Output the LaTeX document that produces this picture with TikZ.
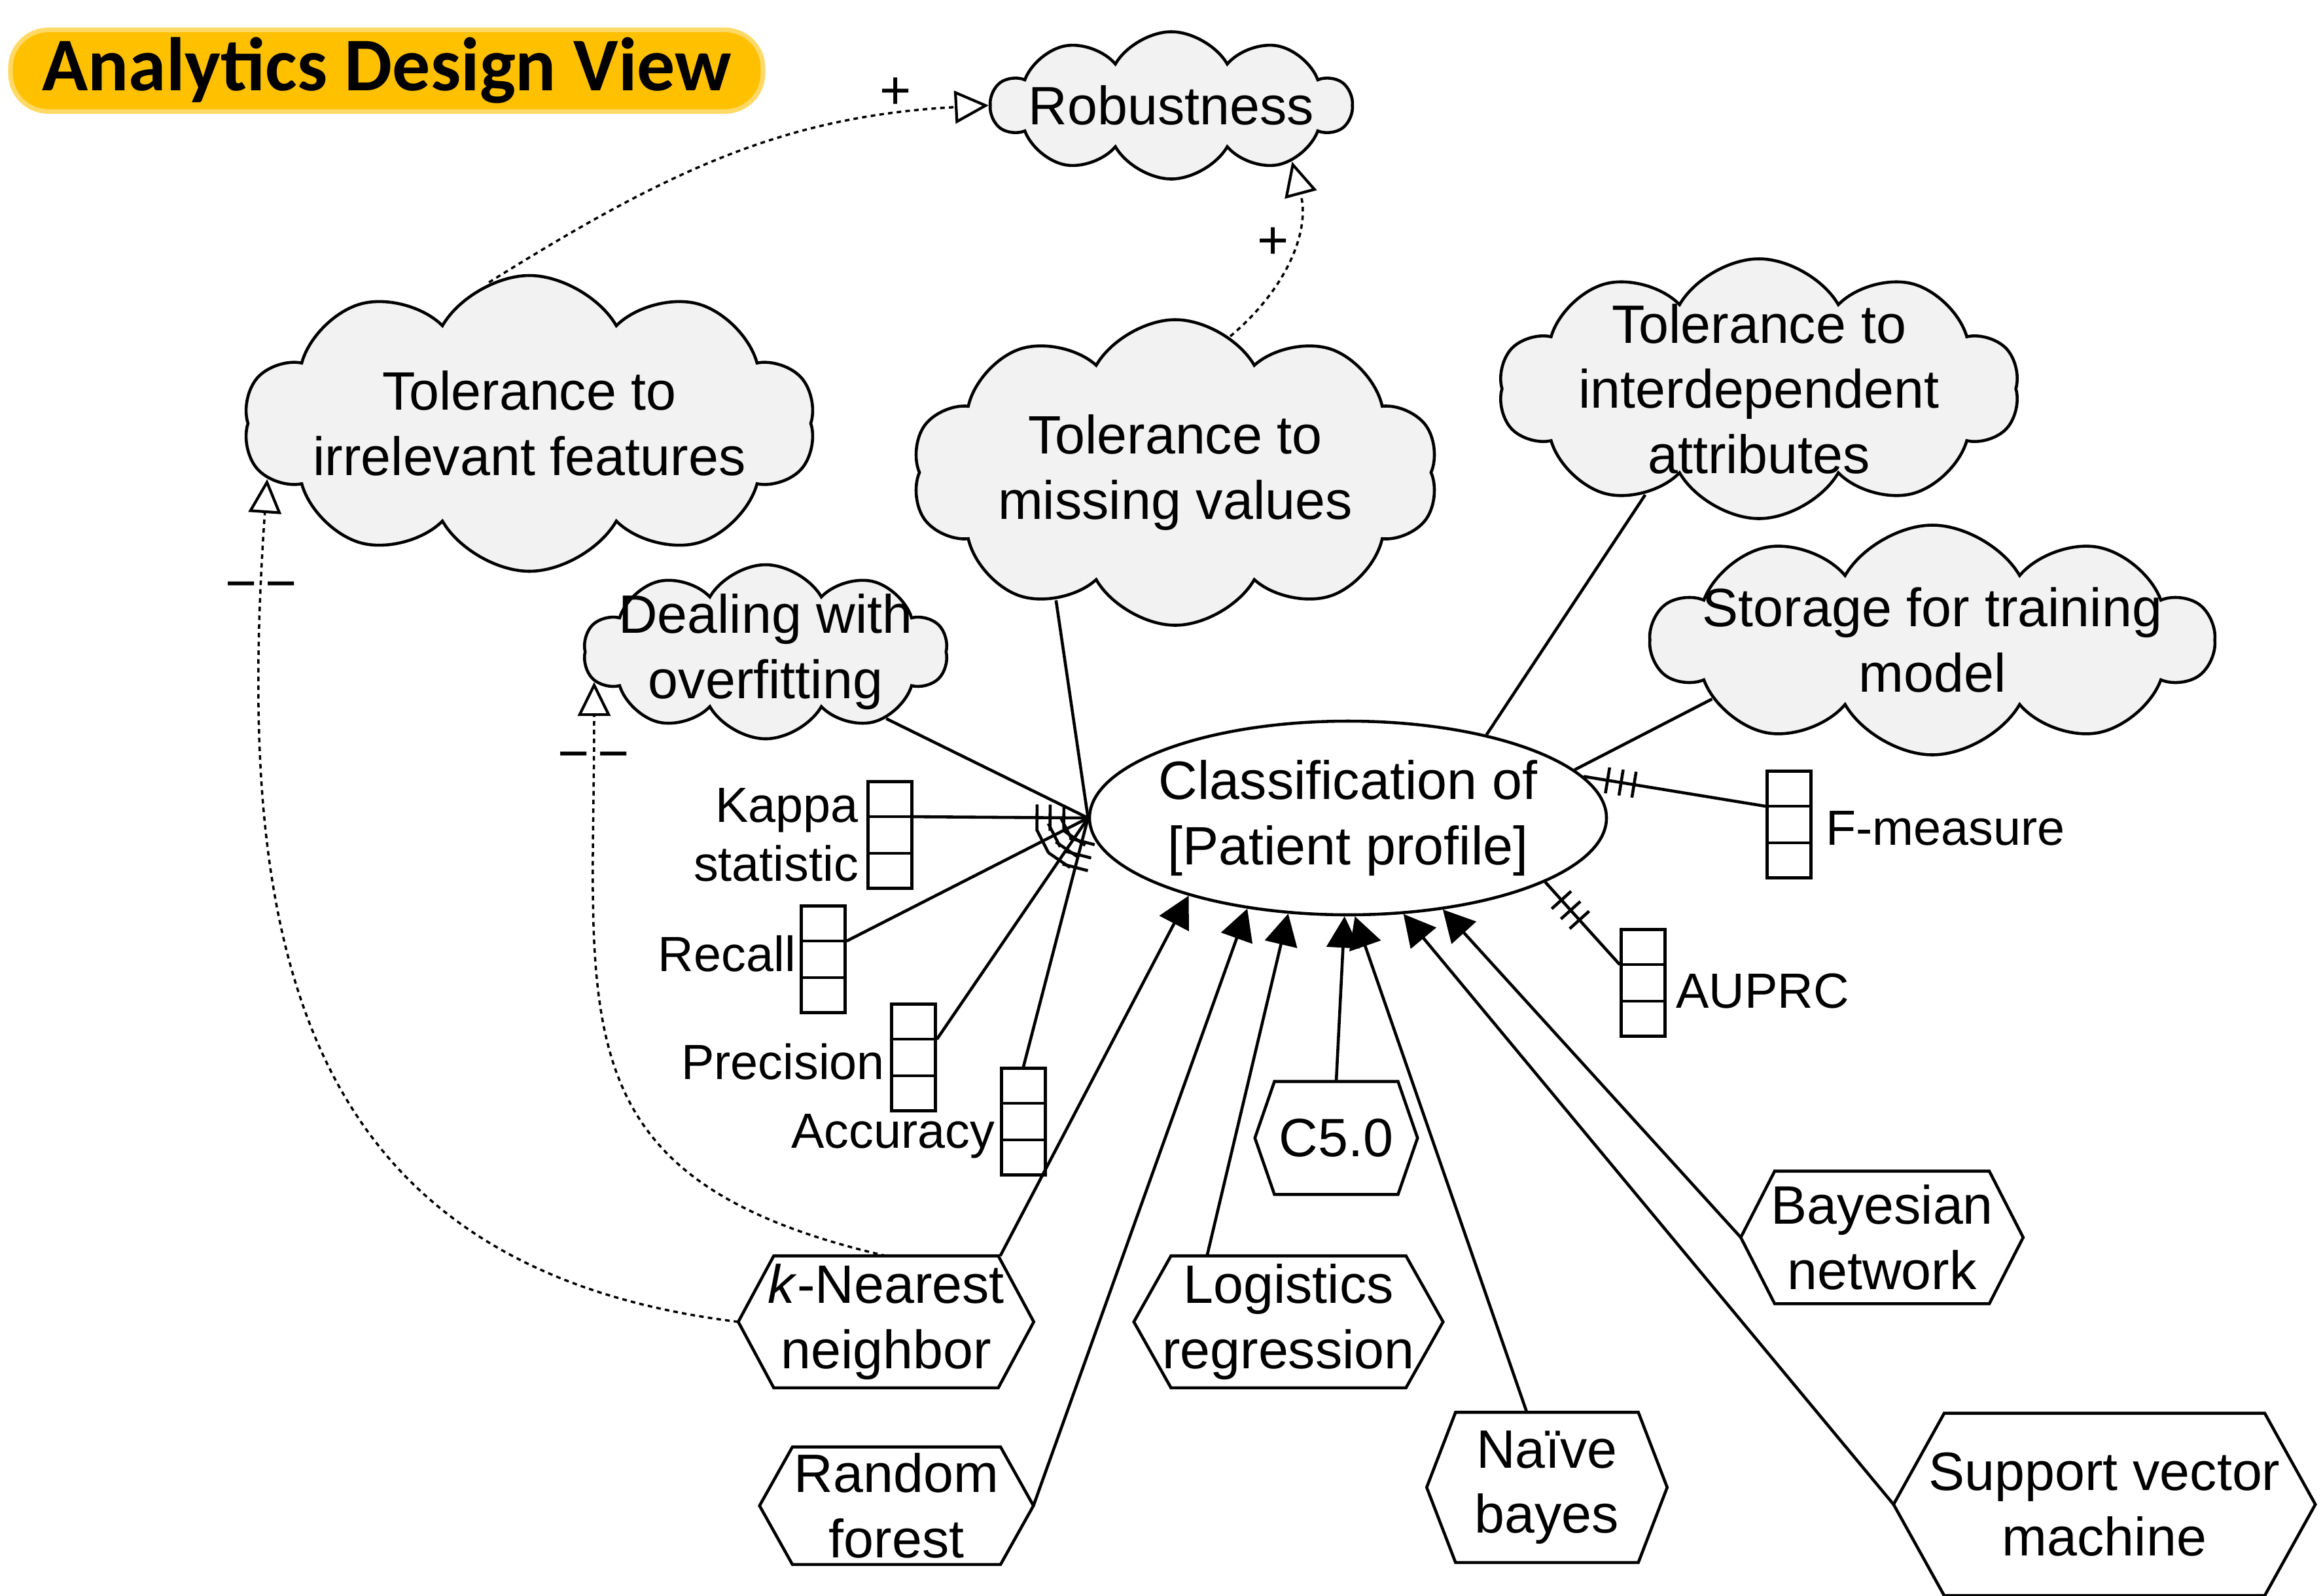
\documentclass[tikz,border=0pt]{standalone}
\usepackage{fontspec}
\setmainfont{Liberation Sans}
\newfontfamily\titlefont{Carlito}
\usepackage{tikz}
\usetikzlibrary{positioning, shapes.geometric, shapes.symbols, arrows.meta, calc, decorations.markings}
\definecolor{viewfill}{HTML}{FFC000}
\definecolor{viewedge}{HTML}{FFD966}
\definecolor{softfill}{HTML}{F2F2F2}

\tikzset{
    softgoal/.style={cloud, cloud puffs=10, cloud puff arc=120, cloud ignores aspect, draw, fill=softfill, inner sep=0pt, label={[align=center]center:#1}},
    goal/.style={ellipse, draw, fill=white, inner sep=0pt, label={[align=center]center:#1}},
    task/.style={align=center, inner sep=0pt},
    indicator/.style={draw, minimum width=0.67cm, minimum height=1.63cm, inner sep=0pt},
    metrictext/.style={inner sep=0.04cm, font=\fontsize{21.5}{25.5}\selectfont},
    means/.style={-{Triangle[length=0.48cm, width=0.5cm]}},
    contrib/.style={line width=1pt, dash pattern=on 2pt off 1.8pt, -{Triangle[open, length=0.52cm, width=0.5cm, line width=1.2pt]}},
    tick3/.style={postaction={decorate, decoration={markings,
        mark=at position 0.37cm with {\draw (0,-0.2) -- (0,0.2);},
        mark=at position 0.58cm with {\draw (0,-0.2) -- (0,0.2);},
        mark=at position 0.78cm with {\draw (0,-0.2) -- (0,0.2);}}}}
}

\begin{document}
\begin{tikzpicture}[line width=1.3pt, font=\fontsize{23.5}{28.3}\selectfont]
    \useasboundingbox (0,0) rectangle (35.5,-24.38);

    \node [draw=viewedge, line width=2pt, fill=viewfill, rounded corners=0.58cm, minimum width=11.5cm, minimum height=1.12cm, font=\titlefont\bfseries\fontsize{33}{36}\selectfont] (view) at (5.91,-1.08) {Analytics Design View};

    % softgoals
    \node [softgoal={Robustness}, minimum width=5.5cm, minimum height=2.25cm] (robust) at (17.90,-1.61) {};
    \node [softgoal={Tolerance to\\irrelevant features}, minimum width=8.74cm, minimum height=4.52cm] (irrel) at (8.09,-6.47) {};
    \node [softgoal={Tolerance to\\missing values}, minimum width=8.05cm, minimum height=4.67cm] (missing) at (17.96,-7.22) {};
    \node [softgoal={Dealing with\\overfitting}, minimum width=5.56cm, minimum height=2.66cm] (overfit) at (11.70,-9.96) {};
    \node [softgoal={Tolerance to\\interdependent\\attributes}, minimum width=7.95cm, minimum height=3.97cm] (interdep) at (26.88,-5.94) {};
    \node [softgoal={Storage for training\\model}, minimum width=8.58cm, minimum height=3.51cm] (storage) at (29.53,-9.78) {};

    \node [goal={Classification of\\{[}Patient profile{]}}, minimum width=7.9cm, minimum height=2.96cm] (cls) at (20.60,-12.50) {};

    % indicators
    \node [indicator] (kappa) at (13.60,-12.76) {};
    \node [indicator] (recall) at (12.58,-14.66) {};
    \node [indicator] (precision) at (13.96,-16.16) {};
    \node [indicator] (accuracy) at (15.64,-17.14) {};
    \node [indicator] (fmeas) at (27.34,-12.60) {};
    \node [indicator] (auprc) at (25.11,-15.02) {};
    \foreach \n in {kappa,recall,precision,accuracy,fmeas,auprc} {
        \draw ($(\n.north west)!1/3!(\n.south west)$) -- ($(\n.north east)!1/3!(\n.south east)$);
        \draw ($(\n.north west)!2/3!(\n.south west)$) -- ($(\n.north east)!2/3!(\n.south east)$);
    }
    \foreach \n in {kappa,recall,precision}
        \coordinate (\n-in) at ($(\n.north east)!1/3!(\n.south east)$);
    \foreach \n in {fmeas,auprc}
        \coordinate (\n-in) at ($(\n.north west)!1/3!(\n.south west)$);

    \node [metrictext, align=right, left=0.06cm of kappa] (kappa-txt) {Kappa\\statistic};
    \node [metrictext, left=0cm of recall, yshift=0.09cm] (recall-txt) {Recall};
    \node [metrictext, left=0.02cm of precision, yshift=-0.06cm] (precision-txt) {Precision};
    \node [metrictext, left=0.02cm of accuracy, yshift=-0.22cm] (accuracy-txt) {Accuracy};
    \node [metrictext, right=0.14cm of fmeas, yshift=-0.06cm] (fmeas-txt) {F-measure};
    \node [metrictext, right=0.08cm of auprc, yshift=-0.12cm] (auprc-txt) {AUPRC};

    % operationalizations
    \node [task, minimum width=2.44cm, minimum height=1.68cm] (c50) at (20.42,-17.39) {C5.0};
    \node [task, minimum width=4.47cm, minimum height=1.97cm] (knn) at (13.54,-20.20) {\textit{k}-Nearest\\neighbor};
    \node [task, minimum width=4.68cm, minimum height=1.97cm] (logit) at (19.69,-20.20) {Logistics\\regression};
    \node [task, minimum width=4.27cm, minimum height=1.98cm] (bayes) at (28.76,-18.91) {Bayesian\\network};
    \node [task, minimum width=4.14cm, minimum height=1.75cm] (rf) at (13.70,-23.01) {Random\\forest};
    \node [task, minimum width=3.63cm, minimum height=2.25cm] (naive) at (23.64,-22.73) {Naïve\\bayes};
    \node [task, minimum width=6.40cm, minimum height=2.74cm] (svm) at (32.16,-22.99) {Support vector\\machine};
    \foreach \n in {c50,knn,logit,bayes,rf,naive,svm}
        \draw (\n.west) -- ($(\n.north west)!.12!(\n.north east)$) -- ($(\n.north east)!.12!(\n.north west)$) -- (\n.east)
            -- ($(\n.south east)!.12!(\n.south west)$) -- ($(\n.south west)!.12!(\n.south east)$) -- cycle;

    % contributions
    \draw [contrib] (irrel.106) to [out=32, in=183] node [pos=0.84, above=0.06cm, inner sep=0pt] {+} (robust.west);
    \draw [contrib] (missing.68) to [out=40, in=-75] node [pos=0.58, left=0.05cm, inner sep=0pt] {+} (robust.-25);
    \draw [contrib] (knn.west) to [out=173, in=-94, looseness=1.2] node [pos=0.915, inner sep=0pt] {−\kern0.15em−} (irrel.192);
    \draw [contrib] (knn.north) to [out=167, in=-90, looseness=1.35] node [pos=0.918, inner sep=0pt] {−\kern0.15em−} (overfit.190);

    \draw (overfit.-29) -- (cls.west);
    \draw (missing.227) -- (cls.west);
    \draw (interdep.223) -- (cls.31);
    \draw (storage.195) -- (cls.12);

    \draw [tick3] (cls.west) -- (kappa-in);
    \draw [tick3] (cls.west) -- (recall-in);
    \draw [tick3] (cls.west) -- (precision-in);
    \draw [tick3] (cls.west) -- (accuracy.north);
    \draw [tick3] (cls.10) -- (fmeas-in);
    \draw [tick3] (cls.-18) -- (auprc-in);

    % means-ends
    \draw [means] (knn.30) -- (cls.206);
    \draw [means] (rf.east) -- (cls.222);
    \draw [means] (logit.141) -- (cls.238);
    \draw [means] (c50.north) -- (cls.268);
    \draw [means] (naive.105) -- (cls.274);
    \draw [means] (svm.west) -- (cls.300);
    \draw [means] (bayes.west) -- (cls.316);
\end{tikzpicture}
\end{document}
